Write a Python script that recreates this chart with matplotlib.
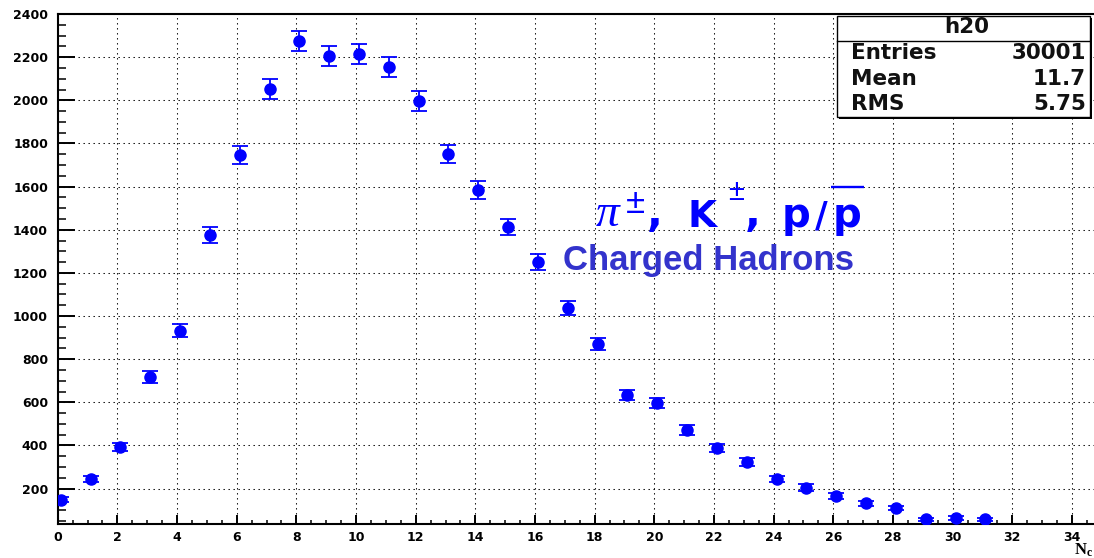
import numpy as np
import matplotlib
matplotlib.use("Agg")
import matplotlib.pyplot as plt
from matplotlib.patches import Rectangle
from matplotlib.lines import Line2D
from matplotlib.ticker import MultipleLocator

plt.rcParams["mathtext.fontset"] = "custom"
plt.rcParams["mathtext.rm"] = "Liberation Sans:bold"
plt.rcParams["mathtext.bf"] = "Liberation Serif:bold"
plt.rcParams["mathtext.it"] = "Liberation Serif:italic"

# Charged-hadron multiplicity histogram (h20)
n_charged = np.arange(32)
bin_centres = n_charged + 0.1
counts = [148, 245, 392, 718, 931, 1376, 1745, 2052, 2275, 2206, 2213, 2154,
          1997, 1751, 1584, 1413, 1250, 1037, 870, 634, 597, 472, 389, 324,
          245, 205, 166, 132, 110, 58, 64, 58]
errors = np.sqrt(counts)

stats_title = "h20"
stats_names = ["Entries", "Mean", "RMS"]
stats_values = ["30001", "11.7", "5.75"]

x_ticks = np.arange(0, 35, 2)
y_ticks = np.arange(200, 2401, 200)

W, H = 1094, 558
fig = plt.figure(figsize=(W / 100, H / 100), dpi=100)

def fx(px):
    return px / W

def fy(py):
    return (H - py) / H

ax_left, ax_right, ax_top, ax_bottom = 57.7, 1101.8, 14.0, 524.0
ax = fig.add_axes([fx(ax_left), fy(ax_bottom), fx(ax_right - ax_left),
                   (ax_bottom - ax_top) / H])

ax.errorbar(bin_centres, counts, yerr=errors, fmt="o", color="#0000ff",
            markersize=8, elinewidth=1.3, capsize=5.5, capthick=1.3,
            zorder=3)

ax.set_xlim(0, 35)
ax.set_ylim(36, 2400)
ax.set_xticks(x_ticks)
ax.set_yticks(y_ticks)
ax.xaxis.set_minor_locator(MultipleLocator(0.5))
ax.yaxis.set_minor_locator(MultipleLocator(50))

ax.grid(True, which="major", color="black", linestyle=(0, (1.3, 3.5)),
        linewidth=0.75)
ax.set_axisbelow(True)

for side in ["left", "bottom", "top", "right"]:
    ax.spines[side].set_linewidth(1.5)

ax.tick_params(axis="x", which="major", direction="in", length=6.5,
               width=1.4, pad=5, labelsize=9)
ax.tick_params(axis="x", which="minor", direction="in", length=3.2,
               width=1.1)
ax.tick_params(axis="y", which="major", direction="in", length=12.4,
               width=1.4, pad=7, labelsize=9)
ax.tick_params(axis="y", which="minor", direction="in", length=5.8,
               width=1.1)
for lab in ax.get_xticklabels() + ax.get_yticklabels():
    lab.set_fontweight("bold")
    lab.set_family("DejaVu Sans")

# axis title
fig.text(fx(1093), fy(555), r"$\mathbf{N}_{\mathbf{c}}$", ha="right",
         va="baseline", fontsize=12)

# statistics box
bx0, bx1, by0, by1 = 837, 1090, 16, 117
fig.add_artist(Rectangle((fx(bx0 + 2), fy(by1 + 2)), fx(bx1 - bx0),
                         (by1 - by0) / H, transform=fig.transFigure,
                         facecolor="black", edgecolor="none", zorder=5))
fig.add_artist(Rectangle((fx(bx0), fy(by1)), fx(bx1 - bx0),
                         (by1 - by0) / H, transform=fig.transFigure,
                         facecolor="white", edgecolor="black", linewidth=1,
                         zorder=6))
fig.add_artist(Line2D([fx(bx0), fx(bx1)], [fy(41), fy(41)],
                      transform=fig.transFigure, color="black",
                      linewidth=1, zorder=7))
stat_font = dict(family="DejaVu Sans", fontweight="bold", fontsize=15.5,
                 va="baseline", zorder=8, color="#111111")
fig.text(fx(967), fy(33), stats_title, ha="center", **stat_font)
for name, value, base in zip(stats_names, stats_values, [59, 85, 110]):
    fig.text(fx(851), fy(base), name, ha="left", **stat_font)
    fig.text(fx(1086), fy(base), value, ha="right", **stat_font)

# particle-species label: pi+-, K+-, p/pbar
blue = "#0000ff"
sans_bold = dict(family="DejaVu Sans", fontweight="bold", color=blue,
                 ha="center", va="baseline")
sign = dict(family="Liberation Sans", color=blue, ha="center",
            va="baseline")
fig.text(fx(607.5), fy(225.5), "\u03c0", family="Liberation Serif",
         style="italic", fontsize=34, color=blue, ha="center",
         va="baseline")
fig.text(fx(635), fy(213), "\u00b1", fontsize=25, **sign)
fig.text(fx(655), fy(226), ",", fontsize=30, **sans_bold)
fig.text(fx(702.5), fy(226.7), "K", fontsize=27, **sans_bold)
fig.text(fx(736), fy(200.5), "\u00b1", fontsize=21, **sign)
fig.text(fx(753), fy(226), ",", fontsize=30, **sans_bold)
fig.text(fx(796), fy(226.7), "p", fontsize=29, **sans_bold)
fig.text(fx(821), fy(226.7), "/", fontsize=25, **sans_bold)
fig.text(fx(847.5), fy(226.7), "p", fontsize=29, **sans_bold)
fig.add_artist(Line2D([fx(831), fx(864)], [fy(186.5), fy(186.5)],
                      transform=fig.transFigure, color=blue,
                      linewidth=1.7, solid_capstyle="butt"))

fig.text(fx(563), fy(270), "Charged Hadrons", family="Liberation Sans",
         fontweight="bold", fontsize=25, color="#3333cc", ha="left",
         va="baseline")

fig.savefig("out.png", dpi=100)
